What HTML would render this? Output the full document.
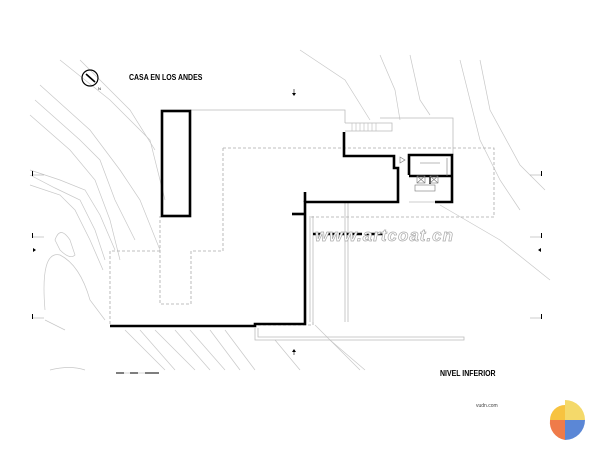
<!DOCTYPE html>
<html><head><meta charset="utf-8"><style>
html,body{margin:0;padding:0;background:#fff;width:600px;height:450px;overflow:hidden}
svg{display:block}
</style></head><body>
<svg width="600" height="450" viewBox="0 0 600 450" xmlns="http://www.w3.org/2000/svg">
<rect width="600" height="450" fill="#fff"/>
<!-- contour lines -->
<g fill="none" stroke="#c8c8c8" stroke-width="0.7">
<path d="M60,60 L110,100 L150,140 L165,200"/>
<path d="M40,85 L90,130 L120,170 L140,200 L160,250"/>
<path d="M35,100 L80,140 L100,160 L115,200 L135,240"/>
<path d="M30,115 L70,150 L95,180 L110,220 L120,260"/>
<path d="M30,170 L60,180 L85,190 L100,215 L115,250"/>
<path d="M30,175 L55,188 L80,200 L95,230 L105,260"/>
<path d="M30,185 L60,195 L75,210 L90,240 L103,270"/>
<path d="M55,240 Q60,225 70,240 L75,255 Q70,260 60,250 Z"/>
<path d="M45,310 Q40,250 60,255 Q80,265 90,300 L105,320"/>
<path d="M45,320 L65,330"/>
<path d="M80,60 L130,110 L155,150"/>
<path d="M300,50 L345,80 L370,120"/>
<path d="M380,55 L395,90 L400,120"/>
<path d="M410,55 L420,100 L430,115"/>
<path d="M460,60 L470,100 L480,140 L500,180 L520,210"/>
<path d="M480,60 L490,110 L520,165 L545,190"/>
<path d="M440,205 L500,240 L550,280"/>
<path d="M125,330 L165,370"/><path d="M140,330 L175,370"/>
<path d="M155,330 L195,370"/><path d="M175,330 L210,370"/>
<path d="M190,330 L225,370"/><path d="M210,330 L240,370"/>
<path d="M225,330 L255,370"/><path d="M315,325 L360,370"/>
<path d="M275,340 L300,370"/><path d="M330,340 L365,370"/>
<path d="M50,370 Q70,365 85,370"/>
</g>
<!-- light outlines -->
<g fill="none" stroke="#bbb" stroke-width="0.8">
<path d="M190,110 L345,110 L345,123"/>
<path d="M345,123 L392,123 L392,131 L345,131"/>
<path d="M380,118 L453,118 L453,155"/>
<path d="M310,216 L310,322 M345,202 L345,322 M313,216 L313,322 M348,202 L348,322"/>
<path d="M255,328 L255,340 L464,340 L464,337 L258,337 L258,328"/>
<path d="M409,202 L435,202"/>
</g>
<g stroke="#bbb" stroke-width="0.6">
<path d="M352,123 V131 M356,123 V131 M360,123 V131 M364,123 V131 M368,123 V131 M372,123 V131 M376,123 V131"/>
</g>
<!-- dashed -->
<g fill="none" stroke="#aaa" stroke-width="0.8" stroke-dasharray="3,2">
<path d="M223,148 L494,148 L494,217 L310,217"/>
<path d="M223,148 L223,251 L191,251 L191,304 L160,304 L160,216"/>
<path d="M160,251 L110,251 L110,325"/>
<path d="M313,322 L313,325 L258,325"/>
</g>
<!-- thick walls -->
<g fill="none" stroke="#000" stroke-width="2.6">
<rect x="162" y="111" width="28" height="105"/>
<path d="M344,132 L344,156 L394,156 L394,168 L398,168 L398,202 L305,202 L305,324 L255,324 L255,326 L110,326"/>
<path d="M305,202 L305,192"/>
<path d="M292,214 L305,214"/>
<path d="M409,175 L409,155 L452,155 L452,202 L435,202"/>
<path d="M409,176 L452,176"/>
<path d="M430,176 L430,184" stroke-width="1.5"/>
<path d="M313,234 L383,234" stroke-dasharray="10,3"/>
</g>
<g fill="none" stroke="#777" stroke-width="0.6">
<path d="M400,157 L405,160 L400,163 Z"/>
<path d="M420,163 L440,163 M447,158 L447,176"/>
<rect x="417" y="176" width="8" height="7"/><rect x="430" y="176" width="8" height="7"/>
<path d="M417,176 L425,183 M425,176 L417,183 M430,176 L438,183 M438,176 L430,183"/>
<rect x="415" y="185" width="20" height="6"/>
</g>
<!-- watermark -->
<text x="315" y="241" font-family="Liberation Sans, sans-serif" font-size="17" font-style="italic" font-weight="bold" fill="#fff" stroke="#aaa" stroke-width="0.7" letter-spacing="1">www.artcoat.cn</text>
<!-- north -->
<circle cx="90" cy="78" r="8" fill="none" stroke="#000" stroke-width="1.2"/>
<path d="M86,74 L95,82" stroke="#000" stroke-width="1.6"/>
<text x="98" y="90" font-family="Liberation Sans, sans-serif" font-size="4" fill="#000">N</text>
<text x="129" y="80" font-family="Liberation Sans, sans-serif" font-size="8.5" font-weight="bold" fill="#000" transform="translate(129,0) scale(0.82,1) translate(-129,0)">CASA EN LOS ANDES</text>
<text x="440" y="376" font-family="Liberation Sans, sans-serif" font-size="8.5" font-weight="bold" fill="#000" transform="translate(440,0) scale(0.82,1) translate(-440,0)">NIVEL INFERIOR</text>
<text x="476" y="407" font-family="Liberation Sans, sans-serif" font-size="5" fill="#444">vudn.com</text>
<!-- section markers -->
<g fill="#000" font-family="Liberation Sans, sans-serif" font-size="3">
<path d="M292,93 L296,93 L294,96 Z"/><path d="M294,89 V93" stroke="#000" stroke-width="0.6"/>
<path d="M292,352 L296,352 L294,349 Z"/><path d="M294,352 V355" stroke="#000" stroke-width="0.6"/>
<rect x="32" y="171" width="1" height="5"/><rect x="32" y="233" width="1" height="5"/><rect x="32" y="314" width="1" height="5"/>
<rect x="541" y="171" width="1" height="5"/><rect x="541" y="233" width="1" height="5"/><rect x="541" y="314" width="1" height="5"/>
<path d="M33,248 L36,250 L33,252 Z"/><path d="M541,248 L538,250 L541,252 Z"/>
</g>
<g stroke="#999" stroke-width="0.5"><path d="M33,175 H44 M33,237 H44 M33,318 H44 M530,175 H541 M530,237 H541 M530,318 H541"/></g>
<!-- scale bar -->
<g stroke="#000" stroke-width="1.2"><path d="M116,373 H124 M130,373 H138 M145,373 H159"/></g>
<path d="M116,373 H159" stroke="#999" stroke-width="0.4"/>
<!-- logo -->
<path d="M585,420 A20,20 0 0 0 565,400 L565,420 Z" fill="#f4d96a"/>
<path d="M565,405 A15,15 0 0 0 550,420 A15,15 0 0 0 565,435 Z" fill="#f7c340"/>
<path d="M565,420 L585,420 A20,20 0 0 1 565,440 Z" fill="#5b87d6"/>
<path d="M550,420 L565,420 L565,440 A18,18 0 0 1 550,420Z" fill="#ef7b4a"/>
</svg>
</body></html>
